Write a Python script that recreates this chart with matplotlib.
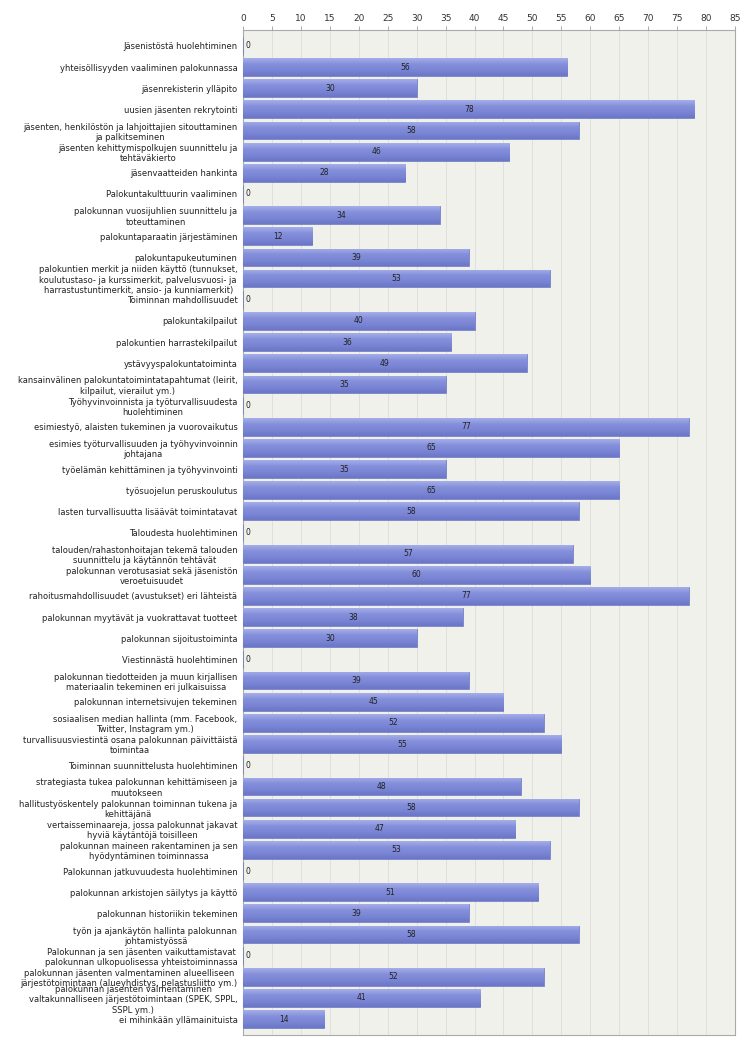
import numpy as np
import matplotlib
matplotlib.use("Agg")
import matplotlib.pyplot as plt
from matplotlib.colors import LinearSegmentedColormap

labels = [
    "Jäsenistöstä huolehtiminen",
    "yhteisöllisyyden vaaliminen palokunnassa",
    "jäsenrekisterin ylläpito",
    "uusien jäsenten rekrytointi",
    "jäsenten, henkilöstön ja lahjoittajien sitouttaminen\nja palkitseminen",
    "jäsenten kehittymispolkujen suunnittelu ja\ntehtäväkierto",
    "jäsenvaatteiden hankinta",
    "Palokuntakulttuurin vaaliminen",
    "palokunnan vuosijuhlien suunnittelu ja\ntoteuttaminen",
    "palokuntaparaatin järjestäminen",
    "palokuntapukeutuminen",
    "palokuntien merkit ja niiden käyttö (tunnukset,\nkoulutustaso- ja kurssimerkit, palvelusvuosi- ja\nharrastustuntimerkit, ansio- ja kunniamerkit)",
    "Toiminnan mahdollisuudet",
    "palokuntakilpailut",
    "palokuntien harrastekilpailut",
    "ystävyyspalokuntatoiminta",
    "kansainvälinen palokuntatoimintatapahtumat (leirit,\nkilpailut, vierailut ym.)",
    "Työhyvinvoinnista ja työturvallisuudesta\nhuolehtiminen",
    "esimiestyö, alaisten tukeminen ja vuorovaikutus",
    "esimies työturvallisuuden ja työhyvinvoinnin\njohtajana",
    "työelämän kehittäminen ja työhyvinvointi",
    "työsuojelun peruskoulutus",
    "lasten turvallisuutta lisäävät toimintatavat",
    "Taloudesta huolehtiminen",
    "talouden/rahastonhoitajan tekemä talouden\nsuunnittelu ja käytännön tehtävät",
    "palokunnan verotusasiat sekä jäsenistön\nveroetuisuudet",
    "rahoitusmahdollisuudet (avustukset) eri lähteistä",
    "palokunnan myytävät ja vuokrattavat tuotteet",
    "palokunnan sijoitustoiminta",
    "Viestinnästä huolehtiminen",
    "palokunnan tiedotteiden ja muun kirjallisen\nmateriaalin tekeminen eri julkaisuissa",
    "palokunnan internetsivujen tekeminen",
    "sosiaalisen median hallinta (mm. Facebook,\nTwitter, Instagram ym.)",
    "turvallisuusviestintä osana palokunnan päivittäistä\ntoimintaa",
    "Toiminnan suunnittelusta huolehtiminen",
    "strategiasta tukea palokunnan kehittämiseen ja\nmuutokseen",
    "hallitustyöskentely palokunnan toiminnan tukena ja\nkehittäjänä",
    "vertaisseminaareja, jossa palokunnat jakavat\nhyviä käytäntöjä toisilleen",
    "palokunnan maineen rakentaminen ja sen\nhyödyntäminen toiminnassa",
    "Palokunnan jatkuvuudesta huolehtiminen",
    "palokunnan arkistojen säilytys ja käyttö",
    "palokunnan historiikin tekeminen",
    "työn ja ajankäytön hallinta palokunnan\njohtamistyössä",
    "Palokunnan ja sen jäsenten vaikuttamistavat\npalokunnan ulkopuolisessa yhteistoiminnassa",
    "palokunnan jäsenten valmentaminen alueelliseen\njärjestötoimintaan (alueyhdistys, pelastusliitto ym.)",
    "palokunnan jäsenten valmentaminen\nvaltakunnalliseen järjestötoimintaan (SPEK, SPPL,\nSSPL ym.)",
    "ei mihinkään yllämainituista",
]

values = [0, 56, 30, 78, 58, 46, 28,
          0, 34, 12, 39, 53,
          0, 40, 36, 49, 35,
          0, 77, 65, 35, 65, 58,
          0, 57, 60, 77, 38, 30,
          0, 39, 45, 52, 55,
          0, 48, 58, 47, 53,
          0, 51, 39, 58,
          0, 52, 41, 14]

xticks = list(range(0, 90, 5))

fig = plt.figure(figsize=(7.5, 10.5), dpi=100)
ax = fig.add_axes([243 / 750, 1 - 1035 / 1050, 492 / 750, 1005 / 1050])
ax.set_facecolor("#eff1ea")

y = np.arange(len(labels))
bh = 0.84
bars = ax.barh(y, values, height=bh, color="#7c87d6", edgecolor="#6c77c4", linewidth=0.5, zorder=3)

# vertical gradient on each bar (light top, darker bottom)
cmap = LinearSegmentedColormap.from_list("bar", ["#a6afe9", "#8590db", "#7a85d5", "#6c76c7"])
grad = np.linspace(0, 1, 64).reshape(-1, 1)
for b in bars:
    if b.get_width() <= 0:
        continue
    x0, y0 = b.get_x(), b.get_y()
    w, h = b.get_width(), b.get_height()
    # y axis is inverted, so origin="lower" puts the first row at the visual top
    im = ax.imshow(grad, cmap=cmap, aspect="auto", extent=(x0, x0 + w, y0, y0 + h),
                   origin="lower", zorder=3.5, interpolation="bilinear")
    im.set_clip_path(b)

# value labels in middle of bars
for yi, v in zip(y, values):
    if v == 0:
        ax.text(0.4, yi, "0", fontsize=5.5, va="center", ha="left", color="#222222", zorder=4)
    else:
        ax.text(v / 2, yi, str(v), fontsize=5.5, va="center", ha="center", color="#222222", zorder=4)

ax.set_xlim(0, 85)
ax.set_ylim(len(labels) - 0.25, -0.75)
ax.set_xticks(xticks)
ax.xaxis.tick_top()
ax.tick_params(axis="x", labelsize=6.5, colors="#333333", length=3, width=0.6, pad=2)
ax.tick_params(axis="x", color="#999999")
ax.set_yticks(y)
ax.set_yticklabels(labels, fontsize=6, multialignment="center", color="#222222")
ax.tick_params(axis="y", length=0, pad=4)
ax.grid(axis="x", color="#dcdcdc", linewidth=0.6, zorder=0)
for s in ax.spines.values():
    s.set_color("#aaaaaa")
    s.set_linewidth(0.8)

fig.savefig("out.png", dpi=100)
